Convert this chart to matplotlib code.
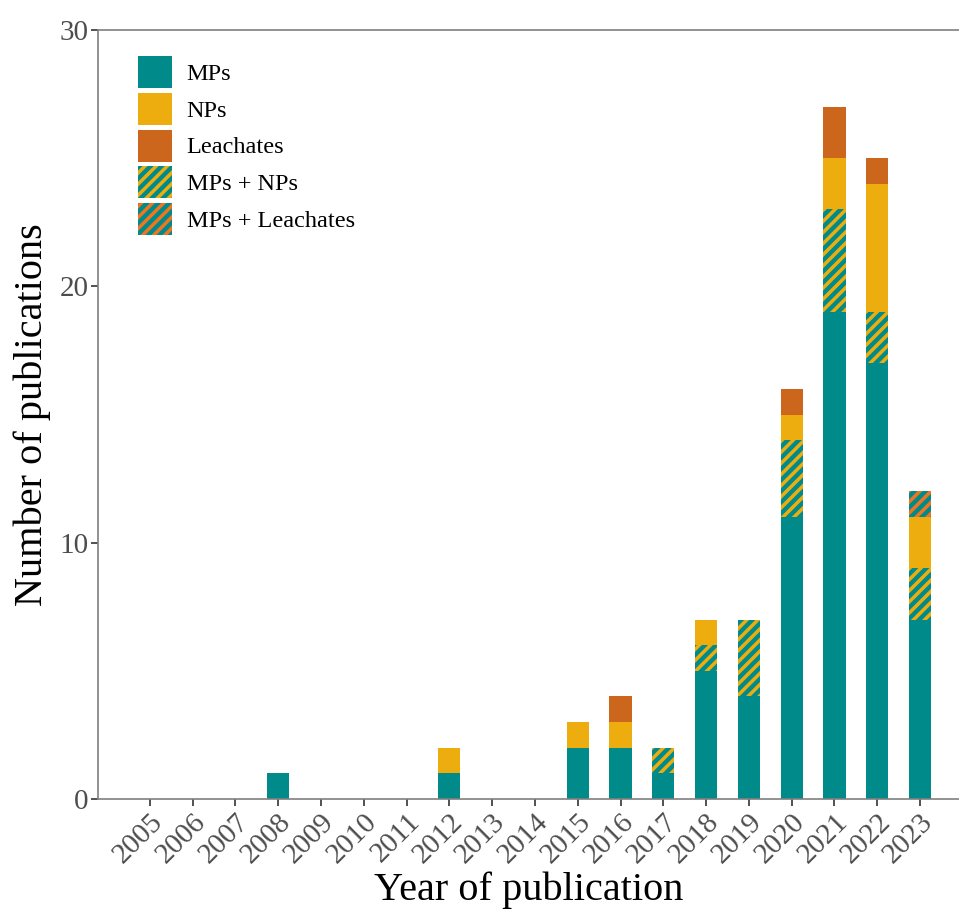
import matplotlib.pyplot as plt
import numpy as np

years = list(range(2005, 2024))
mps          = [0, 0, 0, 1, 0, 0, 0, 1, 0, 0, 2, 2, 1, 5, 4, 11, 19, 17, 7]
mps_nps      = [0, 0, 0, 0, 0, 0, 0, 0, 0, 0, 0, 0, 1, 1, 3, 3, 4, 2, 2]
nps          = [0, 0, 0, 0, 0, 0, 0, 1, 0, 0, 1, 1, 0, 1, 0, 1, 2, 5, 2]
leachates    = [0, 0, 0, 0, 0, 0, 0, 0, 0, 0, 0, 1, 0, 0, 0, 1, 2, 1, 0]
mps_leach    = [0, 0, 0, 0, 0, 0, 0, 0, 0, 0, 0, 0, 0, 0, 0, 0, 0, 0, 1]

teal = "#008B8A"
yellow = "#EEAD0E"
orange = "#CD661D"
orange2 = "#EE7621"

plt.rcParams['font.family'] = ['Liberation Serif', 'DejaVu Serif']
plt.rcParams['hatch.linewidth'] = 2.5

fig = plt.figure(figsize=(9.59, 9.18), dpi=100)
ax = fig.add_axes([0.1022, 0.1296, 0.8978, 0.8377])

x = np.array(years)
w = 0.52
bottom = np.zeros(len(years))
series = [
    (mps, "MPs", dict(color=teal)),
    (mps_nps, "MPs + NPs", dict(facecolor=teal, edgecolor=yellow, hatch='///')),
    (nps, "NPs", dict(color=yellow)),
    (leachates, "Leachates", dict(color=orange)),
    (mps_leach, "MPs + Leachates", dict(facecolor=teal, edgecolor=orange2, hatch='///')),
]
handles = {}
for vals, name, style in series:
    v = np.array(vals, dtype=float)
    b = ax.bar(x, v, w, bottom=bottom, linewidth=0, label=name, **style)
    handles[name] = b
    bottom += v

order = ["MPs", "NPs", "Leachates", "MPs + NPs", "MPs + Leachates"]
ax.legend([handles[k] for k in order], order, loc='upper left',
          bbox_to_anchor=(0.021, 0.995), frameon=False, fontsize=17.5,
          handlelength=1.4, handleheight=1.65, labelspacing=0.2,
          handletextpad=0.6, borderpad=0.4)

ax.set_xlim(2003.79, 2023.91)
ax.set_ylim(0, 30)
ax.set_yticks([0, 10, 20, 30])
ax.set_xticks(years)
ax.set_xticklabels([str(y) for y in years], rotation=45, ha='right',
                   rotation_mode='anchor')
ax.tick_params(axis='both', labelsize=21, labelcolor='#4D4D4D',
               color='#333333', length=5, width=1.2)
ax.tick_params(axis='x', pad=2)
ax.tick_params(axis='y', pad=2)

for s in ['left', 'bottom', 'top']:
    ax.spines[s].set_color('#7F7F7F')
    ax.spines[s].set_linewidth(1.2)
ax.spines['right'].set_visible(False)

ax.set_xlabel("Year of publication", fontsize=29, labelpad=2)
ax.set_ylabel("Number of publications", fontsize=29, labelpad=6)

fig.savefig("out.png", dpi=100)
